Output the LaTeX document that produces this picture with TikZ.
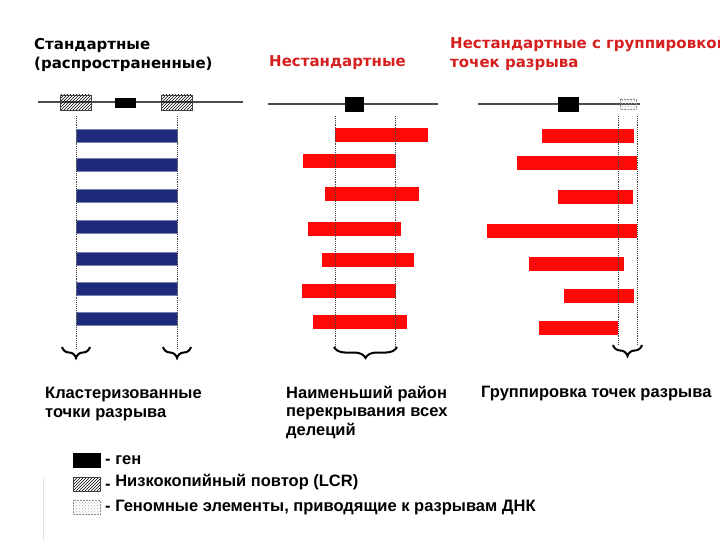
\documentclass[tikz,border=0pt]{standalone}
\usepackage{fontspec}
\setmainfont{Liberation Sans}
\newfontfamily\titlefont{DejaVu Sans}
\usetikzlibrary{patterns, decorations.pathreplacing}
\definecolor{navybar}{HTML}{1E2B7A}
\definecolor{delred}{HTML}{FF0808}
\definecolor{titlered}{HTML}{D61F1F}
\tikzset{
  chrom/.style={line width=1.1pt, black!70},
  gene/.style={fill=black, draw=black, line width=0.4pt},
  lcr/.style={pattern=north east lines, draw=black!75, line width=0.5pt},
  gelem/.style={pattern=crosshatch dots, pattern color=black!30, draw=black!45, densely dotted, line width=0.5pt},
  bpline/.style={densely dotted, line width=0.9pt, black!75},
  bluebar/.style={fill=navybar, draw=navybar!60!white, line width=0.6pt},
  redbar/.style={fill=delred},
  clbrace/.style={decorate, decoration={brace, mirror, amplitude=11pt, aspect=0.5}, line width=2pt},
  ptitle/.style={font=\titlefont\bfseries\fontsize{15}{19}\selectfont, anchor=north west, align=left, inner sep=0pt},
  plabel/.style={font=\bfseries\fontsize{16.5}{18.5}\selectfont, anchor=north west, align=left, inner sep=0pt},
  keytext/.style={font=\bfseries\fontsize{16.5}{18}\selectfont, anchor=west, inner sep=0pt}
}
\begin{document}
\begin{tikzpicture}[x=1pt, y=-1pt]
\useasboundingbox (0,0) rectangle (720,540);
\def\bh{7}
% titles
\node[ptitle] (tstd) at (34,38) {Стандартные\\(распространенные)};
\node[ptitle, titlered] (tnonstd) at (269,55) {Нестандартные};
\node[ptitle, titlered] (tgroup) at (450,37) {Нестандартные с группировкой\\точек разрыва};
% chromosome lines with genes and repeats
\draw[chrom] (38,102) -- (243,102);
\draw[chrom] (268,104) -- (438,104);
\draw[chrom] (478,104) -- (640,104);
\filldraw[lcr] (60,95) rectangle (91,110);
\filldraw[lcr] (161,95) rectangle (192,110);
\filldraw[gene] (115,98) rectangle (135,107);
\filldraw[gene] (345,97) rectangle (363,111);
\filldraw[gene] (558,97) rectangle (578,111);
\filldraw[gelem] (620,99) rectangle (636,109);
% standard deletions between the two LCRs
\foreach \yc in {135.5,165,195.5,227,258.5,288.5,319}{
  \filldraw[bluebar] (76,\yc-6.5) rectangle (177,\yc+6.5);}
% nonstandard deletions
\foreach \xa/\xb/\yc in {335/428/135, 303/396/161, 325/419/194, 308/401/229,
    322/414/259.5, 302/396/290.5, 313/407/321.5}{
  \fill[redbar] (\xa,\yc-\bh) rectangle (\xb,\yc+\bh);}
% nonstandard deletions, grouped breakpoints
\foreach \xa/\xb/\yc in {542/634/136, 517/637/163.5, 558/633/197, 487/637/231,
    529/624/264, 564/634/296, 539/618/327.5}{
  \fill[redbar] (\xa,\yc-\bh) rectangle (\xb,\yc+\bh);}
% breakpoint guides
\foreach \xg/\ye in {76/348, 177/348, 335/347, 395/347, 618/345, 637/345}{
  \draw[bpline] (\xg,116) -- (\xg,\ye);}
% braces
\draw[clbrace] (62,347) -- (90,347);
\draw[clbrace] (163,347) -- (191,347);
\draw[clbrace] (334,347) -- (397,347);
\draw[clbrace] (613,345) -- (642,345);
% labels under the braces
\node[plabel] (lclust) at (45,387) {Кластеризованные\\точки разрыва};
\node[plabel] (loverlap) at (286,386) {Наименьший район\\перекрывания всех\\делеций};
\node[plabel] (lgroup) at (481,386) {Группировка точек разрыва};
% legend
\draw[black!12, line width=0.8pt] (43,478) -- (43,540);
\filldraw[gene] (73,453) rectangle (100,467);
\filldraw[lcr] (73,477) rectangle (100,491);
\filldraw[gelem] (73,500) rectangle (100,514);
\node[keytext] (kgene) at (105,460) {- ген};
\node[keytext] (klcr) at (105,482) {\raisebox{-3pt}{-} Низкокопийный повтор (LCR)};
\node[keytext] (kelem) at (105,508) {- Геномные элементы, приводящие к разрывам ДНК};
\end{tikzpicture}
\end{document}
